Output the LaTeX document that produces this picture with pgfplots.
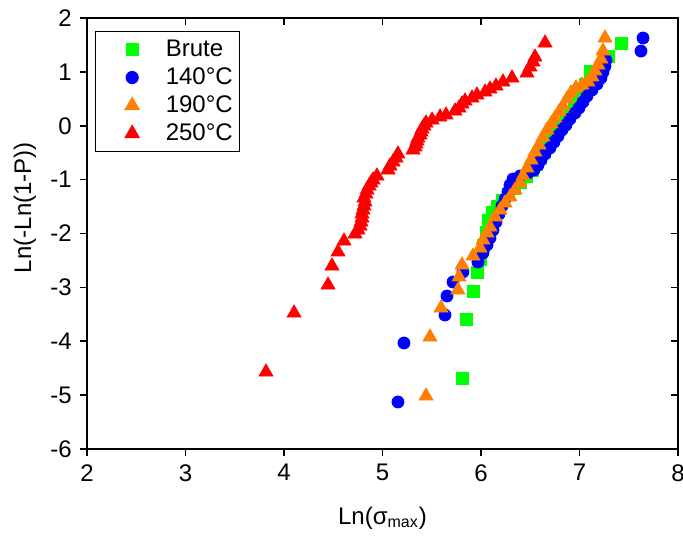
\documentclass[border=0pt]{standalone}
\usepackage{fontspec}
\setmainfont{Liberation Sans}
\usepackage{pgfplots}
\pgfplotsset{compat=1.18}
\definecolor{cgreen}{RGB}{0,255,0}
\definecolor{cblue}{RGB}{0,0,255}
\definecolor{corange}{RGB}{255,128,0}
\definecolor{cred}{RGB}{255,0,0}
\begin{document}
\fontsize{12}{14}\selectfont
\begin{tikzpicture}
\begin{axis}[
  scale only axis, width=295.5pt, height=215.5pt,
  xmin=2, xmax=8, ymin=-6, ymax=2,
  xtick={2,3,4,5,6,7,8}, ytick={-6,-5,-4,-3,-2,-1,0,1,2},
  xtick pos=left, ytick pos=left, tick align=outside,
  major tick length=3.5pt,
  axis line style={line width=0.9pt},
  tick style={line width=0.8pt, black},
  /pgf/number format/assume math mode=true,
  ticklabel style={font=\fontsize{12}{14}\selectfont},
  xlabel={Ln(σ\textsubscript{max})},
  ylabel={Ln(-Ln(1-P))},
  xlabel style={at={(axis description cs:0.5,-0.160)}, anchor=center},
  ylabel style={at={(axis description cs:-0.105,0.56)}, anchor=center},
  label style={font=\fontsize{12}{14}\selectfont},
  legend style={at={(axis description cs:0.0135,0.970)}, anchor=north west,
    draw=black, line width=0.6pt, inner xsep=2pt, inner ysep=2pt,
    nodes={inner sep=1.5pt, text height=8.8pt, text depth=2.2pt, font=\fontsize{12}{14}\selectfont},
    cells={anchor=west}},
  legend image code/.code={\path (0pt,0pt) (31pt,0pt); \draw[#1] plot coordinates {(16pt,0pt)};},
]
\addplot[only marks, mark=square*, mark size=3pt, color=cgreen] coordinates {
(5.807,-4.682) (5.848,-3.587) (5.919,-3.067) (5.959,-2.714) (5.990,-2.473)
(6.020,-2.213) (6.051,-1.972) (6.071,-1.749) (6.112,-1.601) (6.162,-1.489)
(6.213,-1.378) (6.274,-1.267) (6.335,-1.155) (6.396,-1.044) (6.457,-0.933)
(6.518,-0.821) (6.558,-0.710) (6.599,-0.580) (6.639,-0.469) (6.680,-0.339)
(6.731,-0.227) (6.771,-0.097) (6.812,0.014) (6.863,0.144) (6.903,0.255)
(6.944,0.385) (6.985,0.515) (7.025,0.645) (7.056,0.775) (7.107,1.016)
(7.289,1.295) (7.421,1.536)
};
\addlegendentry{Brute}
\addplot[only marks, mark=*, mark size=3pt, color=cblue] coordinates {
(5.157,-5.127) (5.218,-4.032) (5.634,-3.513) (5.655,-3.160) (5.716,-2.900)
(5.817,-2.714) (5.969,-2.529) (6.020,-2.362) (6.061,-2.213) (6.091,-2.083)
(6.122,-1.935) (6.152,-1.786) (6.183,-1.638) (6.213,-1.489) (6.244,-1.360)
(6.274,-1.230) (6.294,-1.100) (6.325,-0.988) (6.396,-0.933) (6.477,-0.877)
(6.538,-0.821) (6.579,-0.728) (6.609,-0.636) (6.650,-0.524) (6.700,-0.413)
(6.741,-0.302) (6.782,-0.190) (6.822,-0.079) (6.863,0.014) (6.903,0.125)
(6.954,0.237) (6.995,0.330) (7.035,0.441) (7.076,0.552) (7.127,0.664)
(7.178,0.775) (7.218,0.886) (7.238,0.998) (7.259,1.109) (7.269,1.220)
(7.624,1.387) (7.645,1.629)
};
\addlegendentry{140°C}
\addplot[only marks, mark=triangle*, mark size=4pt, color=corange] coordinates {
(5.442,-5.016) (5.482,-3.921) (5.594,-3.383) (5.766,-3.049) (5.777,-2.807)
(5.807,-2.585) (5.919,-2.418) (5.990,-2.269) (6.020,-2.121) (6.061,-1.991)
(6.091,-1.879) (6.142,-1.694) (6.193,-1.564) (6.244,-1.434) (6.294,-1.322)
(6.345,-1.192) (6.396,-1.063) (6.426,-0.933) (6.467,-0.784) (6.508,-0.636)
(6.548,-0.487) (6.589,-0.357) (6.629,-0.209) (6.670,-0.079) (6.711,0.033)
(6.751,0.144) (6.792,0.255) (6.832,0.367) (6.873,0.497) (6.914,0.608)
(6.964,0.701) (7.025,0.756) (7.086,0.812) (7.127,0.905) (7.157,1.016)
(7.188,1.128) (7.218,1.239) (7.238,1.387) (7.259,1.629)
};
\addlegendentry{190°C}
\addplot[only marks, mark=triangle*, mark size=4pt, color=cred] coordinates {
(3.817,-4.571) (4.102,-3.476) (4.447,-2.956) (4.487,-2.603) (4.548,-2.343)
(4.609,-2.139) (4.721,-2.009) (4.751,-1.935) (4.772,-1.861) (4.782,-1.787)
(4.792,-1.712) (4.792,-1.638) (4.802,-1.564) (4.812,-1.490) (4.822,-1.415)
(4.812,-1.341) (4.832,-1.267) (4.843,-1.193) (4.863,-1.118) (4.883,-1.063)
(4.904,-1.007) (4.944,-0.933) (5.056,-0.821) (5.076,-0.747) (5.107,-0.673)
(5.137,-0.599) (5.157,-0.524) (5.310,-0.450) (5.330,-0.394) (5.340,-0.339)
(5.350,-0.283) (5.360,-0.227) (5.381,-0.172) (5.391,-0.116) (5.401,-0.060)
(5.421,-0.005) (5.442,0.051) (5.503,0.107) (5.584,0.162) (5.645,0.200)
(5.736,0.274) (5.777,0.329) (5.807,0.404) (5.838,0.459) (5.909,0.515)
(5.959,0.571) (6.041,0.626) (6.091,0.682) (6.152,0.738) (6.223,0.812)
(6.315,0.886) (6.467,0.979) (6.497,1.090) (6.528,1.183) (6.548,1.276)
(6.650,1.536)
};
\addlegendentry{250°C}
\end{axis}
\begin{axis}[
  scale only axis, width=295.5pt, height=215.5pt,
  xmin=2, xmax=8, ymin=-6, ymax=2,
  xtick={2,3,4,5,6,7,8}, ytick={-6,-5,-4,-3,-2,-1,0,1,2},
  xtick pos=right, ytick pos=right, tick align=inside,
  major tick length=3.5pt,
  xticklabels={}, yticklabels={},
  axis line style={line width=0.9pt},
  tick style={line width=0.8pt, black},
]
\addplot[draw=none] coordinates {(2,0)};
\end{axis}
\pgfresetboundingbox
\path[use as bounding box] (-43.5pt,-44.5pt) rectangle (298pt,224.5pt);
\end{tikzpicture}
\end{document}
